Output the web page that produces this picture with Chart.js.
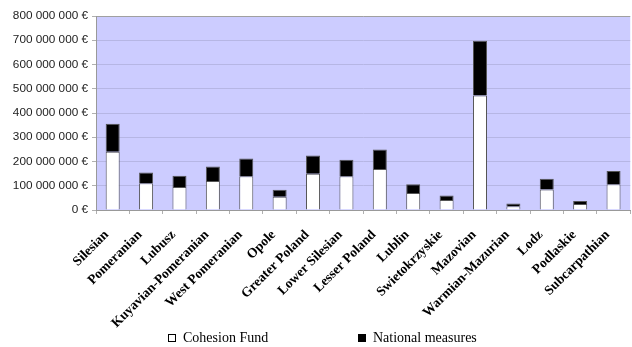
<!DOCTYPE html>
<html>
  <head>
    <meta charset="utf-8">
    <title>Cohesion Fund and national measures by region</title>
    <script src="https://cdn.jsdelivr.net/npm/chart.js"></script>
    <style>
    html, body { margin: 0; padding: 0; background: #fff; overflow: hidden; }
    /* the plot area runs a few pixels past the right edge in the original */
    #wrap { width: 638px; height: 347px; }
  </style>
  </head>
  <body>
    <div id="wrap"><canvas id="fundChart"></canvas></div>
    <script>
    // regions and amounts (EUR)
    const regions = ["Silesian", "Pomeranian", "Lubusz", "Kuyavian-Pomeranian", "West Pomeranian",
      "Opole", "Greater Poland", "Lower Silesian", "Lesser Poland", "Lublin", "Swietokrzyskie",
      "Mazovian", "Warmian-Mazurian", "Lodz", "Podlaskie", "Subcarpathian"];
    const cohesionFund = [240e6, 110e6, 95e6, 120e6, 139e6, 55e6, 150e6, 139e6, 169e6, 70e6, 41e6,
      472e6, 15e6, 85e6, 25e6, 106e6];
    const nationalMeasures = [116e6, 45e6, 46e6, 59e6, 73e6, 29e6, 75e6, 68e6, 80e6, 36e6, 19e6,
      226e6, 12e6, 44e6, 12e6, 55e6];
    const yTicks = [0, 100e6, 200e6, 300e6, 400e6, 500e6, 600e6, 700e6, 800e6];

    function euro(v) {
      return String(v).replace(/\B(?=(\d{3})+(?!\d))/g, " ") + " €";
    }

    // lavender plot background
    const plotBg = {
      id: "plotBg",
      beforeDraw(chart) {
        const a = chart.chartArea, c = chart.ctx;
        c.save();
        c.fillStyle = "#ccccff";
        c.fillRect(a.left, a.top, a.right - a.left, a.bottom - a.top);
        c.restore();
      }
    };

    // legend spread out like the original
    const wideLegend = {
      id: "wideLegend",
      afterDraw(chart) {
        const c = chart.ctx;
        const items = chart.data.datasets;
        const xs = [168, 358];
        const y = 338;
        c.save();
        c.font = "14px 'Liberation Serif'";
        c.textBaseline = "middle";
        items.forEach((ds, i) => {
          c.fillStyle = ds.backgroundColor;
          c.fillRect(xs[i], y - 4, 8, 8);
          c.strokeStyle = "#000";
          c.lineWidth = 1;
          c.strokeRect(xs[i] + 0.5, y - 3.5, 7, 7);
          c.fillStyle = "#000";
          c.fillText(ds.label, xs[i] + 15, y);
        });
        c.restore();
      }
    };

    new Chart(document.getElementById("fundChart"), {
      type: "bar",
      data: {
        labels: regions,
        datasets: [
          {
            label: "Cohesion Fund",
            data: cohesionFund,
            backgroundColor: "#ffffff",
            borderColor: "#555555",
            borderWidth: 1,
            barPercentage: 0.42,
            categoryPercentage: 1
          },
          {
            label: "National measures",
            data: nationalMeasures,
            backgroundColor: "#000000",
            borderColor: "#555555",
            borderWidth: 1,
            barPercentage: 0.42,
            categoryPercentage: 1
          }
        ]
      },
      options: {
        responsive: true,
        maintainAspectRatio: false,
        animation: false,
        layout: { padding: { top: 16, right: 0, bottom: 0, left: 0 } },
        plugins: {
          legend: { display: false },
          tooltip: { enabled: false }
        },
        scales: {
          x: {
            stacked: true,
            grid: {
              offset: true,
              drawOnChartArea: false,
              color: "#b0b0b0",
              tickLength: 4
            },
            border: { color: "#999999" },
            ticks: {
              autoSkip: false,
              minRotation: 45,
              maxRotation: 45,
              padding: 13,
              labelOffset: -6,
              color: "#000",
              font: { family: "'Liberation Serif'", size: 13.5, weight: "bold" }
            },
            afterFit(scale) { scale.height = 137; }
          },
          y: {
            stacked: true,
            min: 0,
            max: 800e6,
            afterBuildTicks(scale) {
              scale.ticks = yTicks.map((v) => ({ value: v }));
            },
            grid: {
              color: (ctx) => (ctx.tick && ctx.tick.value === 800e6 ? "#a0a0a0" : "#b6b6e4"),
              tickColor: "#b0b0b0",
              tickLength: 4
            },
            border: { color: "#999999" },
            ticks: {
              padding: 4,
              color: "#222",
              font: { family: "'Liberation Sans'", size: 11.75 },
              callback: (v) => euro(v)
            },
            afterFit(scale) { scale.width = 96; }
          }
        }
      },
      plugins: [plotBg, wideLegend]
    });
  </script>
  </body>
</html>
